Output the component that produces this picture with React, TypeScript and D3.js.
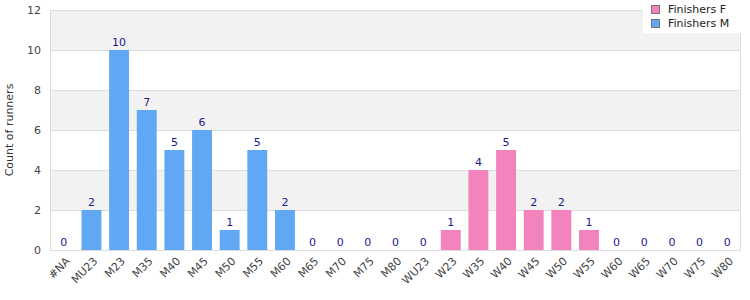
import { useEffect, useRef } from 'react';
import * as d3 from 'd3';

const categories = ['#NA', 'MU23', 'M23', 'M35', 'M40', 'M45', 'M50', 'M55', 'M60', 'M65', 'M70', 'M75', 'M80',
  'WU23', 'W23', 'W35', 'W40', 'W45', 'W50', 'W55', 'W60', 'W65', 'W70', 'W75', 'W80'];
const finishersM = [0, 2, 10, 7, 5, 6, 1, 5, 2, 0, 0, 0, 0, 0, 0, 0, 0, 0, 0, 0, 0, 0, 0, 0, 0];
const finishersF = [0, 0, 0, 0, 0, 0, 0, 0, 0, 0, 0, 0, 0, 0, 1, 4, 5, 2, 2, 1, 0, 0, 0, 0, 0];
const yTicks = [0, 2, 4, 6, 8, 10, 12];

const COLOR_M = '#60a8f4';
const COLOR_F = '#f283bc';
const FONT = 'DejaVu Sans, Verdana, sans-serif';

export default function App() {
  const svgRef = useRef<SVGSVGElement>(null);

  useEffect(() => {
    if (!svgRef.current) return;
    const width = 750;
    const height = 300;
    const margin = { top: 10, right: 9, bottom: 50, left: 50 };

    const svg = d3.select(svgRef.current);
    svg.selectAll('*').remove();

    const x = d3
      .scaleBand()
      .domain(categories)
      .range([margin.left, width - margin.right])
      .paddingInner(0.28)
      .paddingOuter(0.14);

    const y = d3.scaleLinear().domain([0, 12]).range([height - margin.bottom, margin.top]);

    // Alternating bands
    for (let i = 0; i < yTicks.length - 1; i++) {
      svg
        .append('rect')
        .attr('x', margin.left)
        .attr('y', y(yTicks[i + 1]))
        .attr('width', width - margin.left - margin.right)
        .attr('height', y(yTicks[i]) - y(yTicks[i + 1]))
        .attr('fill', i % 2 === 1 ? '#f2f2f2' : '#ffffff');
    }

    // Gridlines
    svg
      .append('g')
      .selectAll('line')
      .data(yTicks)
      .join('line')
      .attr('x1', margin.left)
      .attr('x2', width - margin.right)
      .attr('y1', (d) => y(d) + 0.5)
      .attr('y2', (d) => y(d) + 0.5)
      .attr('stroke', '#dddddd');

    // Frame
    svg
      .append('rect')
      .attr('x', margin.left + 0.5)
      .attr('y', margin.top + 0.5)
      .attr('width', width - margin.left - margin.right - 1)
      .attr('height', height - margin.top - margin.bottom)
      .attr('fill', 'none')
      .attr('stroke', '#dddddd');

    const rows = categories.map((c, i) => ({ cat: c, M: finishersM[i], F: finishersF[i] }));
    const stack = d3.stack<any>().keys(['M', 'F'])(rows);
    const colors: Record<string, string> = { M: COLOR_M, F: COLOR_F };

    stack.forEach((layer) => {
      svg
        .append('g')
        .selectAll('rect')
        .data(layer)
        .join('rect')
        .attr('x', (d: any) => x(d.data.cat)!)
        .attr('y', (d) => y(d[1]))
        .attr('width', x.bandwidth())
        .attr('height', (d) => y(d[0]) - y(d[1]))
        .attr('fill', colors[layer.key]);
    });

    // Value labels
    svg
      .append('g')
      .selectAll('text')
      .data(rows)
      .join('text')
      .attr('x', (d) => x(d.cat)! + x.bandwidth() / 2)
      .attr('y', (d) => y(d.M + d.F) - 4)
      .attr('text-anchor', 'middle')
      .attr('fill', '#1a1a8c')
      .attr('font-family', FONT)
      .attr('font-size', '11px')
      .text((d) => d.M + d.F);

    // Y tick labels
    svg
      .append('g')
      .selectAll('text')
      .data(yTicks)
      .join('text')
      .attr('x', margin.left - 9)
      .attr('y', (d) => y(d))
      .attr('dy', '0.35em')
      .attr('text-anchor', 'end')
      .attr('fill', '#444444')
      .attr('font-family', FONT)
      .attr('font-size', '11px')
      .text((d) => d);

    // X tick labels
    svg
      .append('g')
      .selectAll('text')
      .data(categories)
      .join('text')
      .attr('transform', (d) => `translate(${x(d)! + x.bandwidth() / 2 + 4}, ${height - margin.bottom + 9}) rotate(-45)`)
      .attr('text-anchor', 'end')
      .attr('dy', '0.35em')
      .attr('fill', '#444444')
      .attr('font-family', FONT)
      .attr('font-size', '11px')
      .text((d) => d);

    // Y axis title
    svg
      .append('text')
      .attr('transform', `translate(9, ${(margin.top + height - margin.bottom) / 2}) rotate(-90)`)
      .attr('text-anchor', 'middle')
      .attr('dy', '0.35em')
      .attr('fill', '#333333')
      .attr('font-family', FONT)
      .attr('font-size', '11px')
      .text('Count of runners');

    // Legend
    const legend = svg.append('g').attr('transform', 'translate(643, 0)');
    legend.append('rect').attr('width', 98).attr('height', 33).attr('fill', '#ffffff');
    const items = [
      { label: 'Finishers F', color: COLOR_F },
      { label: 'Finishers M', color: COLOR_M },
    ];
    items.forEach((it, i) => {
      legend
        .append('rect')
        .attr('x', 8.5)
        .attr('y', 5.5 + i * 14)
        .attr('width', 8)
        .attr('height', 8)
        .attr('fill', it.color)
        .attr('stroke', '#777777');
      legend
        .append('text')
        .attr('x', 25)
        .attr('y', 9.5 + i * 14)
        .attr('dy', '0.35em')
        .attr('fill', '#222222')
        .attr('font-family', FONT)
        .attr('font-size', '11px')
        .text(it.label);
    });
  }, []);

  return (
    <svg
      ref={svgRef}
      width={750}
      height={300}
      style={{ position: 'absolute', left: 0, top: 0, background: '#ffffff' }}
    />
  );
}
